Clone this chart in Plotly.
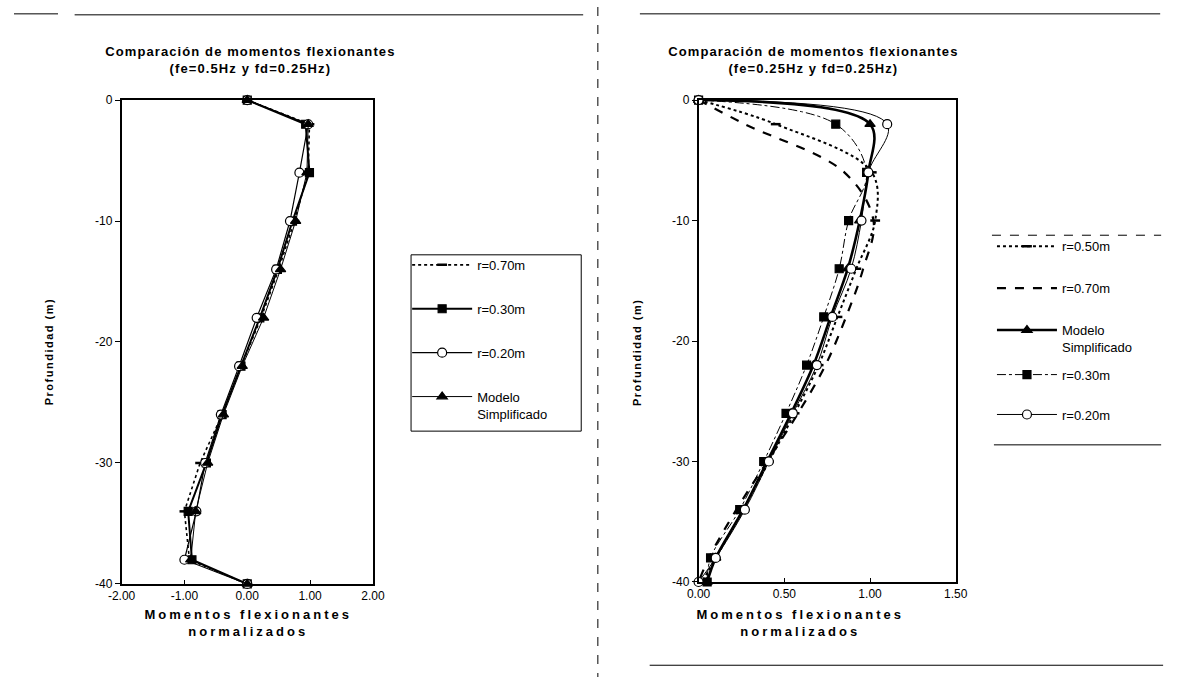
import plotly.graph_objects as go

W, H = 1180, 684

# Depth of each computed section along the pile (m)
depth = [0, -2, -6, -10, -14, -18, -22, -26, -30, -34, -38, -40]

# Left panel: fe=0.5Hz, fd=0.25Hz (normalised bending moments)
left_r070 = [0, 0.99, 0.97, 0.75, 0.50, 0.22, -0.10, -0.40, -0.75, -1.00, -0.92, 0.0]
left_r030 = [0, 0.93, 0.99, 0.72, 0.48, 0.20, -0.10, -0.40, -0.65, -0.94, -0.88, 0.0]
left_r020 = [0, 0.97, 0.83, 0.68, 0.46, 0.15, -0.13, -0.42, -0.67, -0.81, -1.00, 0.0]
left_modelo = [0, 0.97, 0.95, 0.77, 0.53, 0.26, -0.08, -0.38, -0.63, -0.82, -0.90, 0.0]

# Right panel: fe=0.25Hz, fd=0.25Hz
right_r050 = [0, 0.45, 1.01, 1.03, 0.92, 0.81, 0.70, 0.56, 0.41, 0.26, 0.10, 0.02]
right_r070 = [0, 0.27, 0.85, 1.02, 0.96, 0.86, 0.74, 0.58, 0.40, 0.22, 0.06, 0.0]
right_modelo = [0, 1.00, 0.99, 0.94, 0.87, 0.77, 0.67, 0.54, 0.40, 0.26, 0.10, 0.05]
right_r030 = [0, 0.80, 0.98, 0.875, 0.82, 0.73, 0.63, 0.51, 0.38, 0.24, 0.07, 0.05]
right_r020 = [0, 1.10, 0.99, 0.95, 0.89, 0.78, 0.69, 0.55, 0.41, 0.27, 0.10, 0.0]

left_xticks = [-2, -1, 0, 1, 2]
right_xticks = [0, 0.5, 1.0, 1.5]
y_ticks = [0, -10, -20, -30, -40]

titles = ["Comparación de momentos flexionantes<br>(fe=0.5Hz y fd=0.25Hz)",
          "Comparación de momentos flexionantes<br>(fe=0.25Hz y fd=0.25Hz)"]
x_title = "Momentos flexionantes<br>normalizados"
y_title = "Profundidad (m)"

FONT = "Arial, Liberation Sans, sans-serif"
BLACK = "#000000"


def px_x(p):
    return p / W


def px_y(p):
    return 1 - p / H


fig = go.Figure()


def add(x, name, xa, ya, legend, group, dash="solid", width=1.0,
        symbol=None, fill=BLACK, size=8, shape="linear"):
    mode = "lines+markers" if symbol else "lines"
    marker = dict(symbol=symbol or "circle", size=size, color=fill,
                  line=dict(color=BLACK, width=1.2 if symbol != "line-ew" else 2.5))
    fig.add_trace(go.Scatter(
        x=x, y=depth, name=name, mode=mode, xaxis=xa, yaxis=ya,
        legend=legend, legendgroup=group, cliponaxis=False,
        line=dict(color=BLACK, width=width, dash=dash, shape=shape,
                  smoothing=1.0 if shape == "spline" else None),
        marker=marker,
    ))


# Left panel traces
add(left_r070, "r=0.70m", "x", "y", "legend", "l1", dash="dot", width=1.6,
    symbol="line-ew", size=7)
add(left_r030, "r=0.30m", "x", "y", "legend", "l2", width=2.0,
    symbol="square", size=8)
add(left_r020, "r=0.20m", "x", "y", "legend", "l3", width=1.2,
    symbol="circle", fill="#ffffff", size=9)
add(left_modelo, "Modelo<br>Simplificado", "x", "y", "legend", "l4", width=1.0,
    symbol="triangle-up", size=9)

# Right panel traces (smoothed lines)
add(right_r050, "r=0.50m", "x2", "y2", "legend2", "r1", dash="dot", width=2.0,
    symbol="line-ew", size=7, shape="spline")
add(right_r070, "r=0.70m", "x2", "y2", "legend2", "r2", dash="dash", width=2.2,
    shape="spline")
add(right_modelo, "Modelo<br>Simplificado", "x2", "y2", "legend2", "r3", width=2.6,
    symbol="triangle-up", size=9, shape="spline")
add(right_r030, "r=0.30m", "x2", "y2", "legend3", "r4", dash="dashdot", width=1.0,
    symbol="square", size=8, shape="spline")
add(right_r020, "r=0.20m", "x2", "y2", "legend3", "r5", width=1.0,
    symbol="circle", fill="#ffffff", size=9, shape="spline")

axis_common = dict(showgrid=False, zeroline=False, showline=True, linecolor=BLACK,
                   linewidth=1.5, mirror=True, color=BLACK,
                   tickfont=dict(family=FONT, size=12, color=BLACK))

legend_font = dict(family=FONT, size=13, color=BLACK)

fig.update_layout(
    width=W, height=H, margin=dict(l=0, r=0, t=0, b=0),
    paper_bgcolor="white", plot_bgcolor="white",
    font=dict(family=FONT, color=BLACK),
    xaxis=dict(domain=[px_x(110), px_x(367)], range=[-2, 2], anchor="y",
               tickvals=left_xticks, ticktext=[f"{v:.2f}" for v in left_xticks],
               ticks="inside", ticklen=4, **axis_common),
    yaxis=dict(domain=[px_y(589), px_y(95)], range=[-40, 0], anchor="x",
               tickvals=y_ticks, ticktext=[str(v) for v in y_ticks],
               ticks="outside", ticklen=5, **axis_common),
    xaxis2=dict(domain=[px_x(700), px_x(963)], range=[0, 1.5], anchor="y2",
                tickvals=right_xticks, ticktext=[f"{v:.2f}" for v in right_xticks],
                ticks="inside", ticklen=4, **axis_common),
    yaxis2=dict(domain=[px_y(587), px_y(95)], range=[-40, 0], anchor="x2",
                tickvals=y_ticks, ticktext=[str(v) for v in y_ticks],
                ticks="outside", ticklen=5, **axis_common),
    legend=dict(x=px_x(402), y=px_y(248), xanchor="left", yanchor="top",
                bgcolor="rgba(0,0,0,0)", borderwidth=0, font=legend_font,
                tracegroupgap=24, itemwidth=60, valign="top"),
    legend2=dict(x=px_x(1000), y=px_y(229), xanchor="left", yanchor="top",
                 bgcolor="rgba(0,0,0,0)", borderwidth=0, font=legend_font,
                 tracegroupgap=22, itemwidth=60, valign="top"),
    legend3=dict(x=px_x(1000), y=px_y(360), xanchor="left", yanchor="top",
                 bgcolor="rgba(0,0,0,0)", borderwidth=0, font=legend_font,
                 tracegroupgap=20, itemwidth=60, valign="top"),
    showlegend=True,
)

annotations = []
# Panel titles
for cx, txt in zip([242, 818], titles):
    annotations.append(dict(x=px_x(cx), y=px_y(54), xref="paper", yref="paper",
                            text=f"<b>{txt}</b>", showarrow=False,
                            xanchor="center", yanchor="middle",
                            font=dict(family=FONT, size=13, color=BLACK)))
# Horizontal axis titles
for cx in [239, 804]:
    annotations.append(dict(x=px_x(cx), y=px_y(629), xref="paper", yref="paper",
                            text=f"<b>{x_title}</b>", showarrow=False,
                            xanchor="center", yanchor="middle",
                            font=dict(family=FONT, size=13, color=BLACK)))
# Vertical axis titles
for cx in [36, 637]:
    annotations.append(dict(x=px_x(cx), y=px_y(352), xref="paper", yref="paper",
                            text=f"<b>{y_title}</b>", showarrow=False,
                            textangle=-90, xanchor="center", yanchor="middle",
                            font=dict(family=FONT, size=11, color=BLACK)))
fig.update_layout(annotations=annotations)

# Page frame lines, the left legend box and the right legend rules
line = dict(color=BLACK, width=1)
shapes = [
    dict(type="line", xref="paper", yref="paper", x0=px_x(0), x1=px_x(45),
         y0=px_y(7), y1=px_y(7), line=line),
    dict(type="line", xref="paper", yref="paper", x0=px_x(62), x1=px_x(582),
         y0=px_y(8), y1=px_y(8), line=line),
    dict(type="line", xref="paper", yref="paper", x0=px_x(640), x1=px_x(1172),
         y0=px_y(7), y1=px_y(7), line=line),
    dict(type="line", xref="paper", yref="paper", x0=px_x(597), x1=px_x(597),
         y0=px_y(0), y1=px_y(684), line=dict(color=BLACK, width=1, dash="dash")),
    dict(type="line", xref="paper", yref="paper", x0=px_x(650), x1=px_x(1175),
         y0=px_y(672), y1=px_y(672), line=line),
    dict(type="rect", xref="paper", yref="paper", x0=px_x(406), x1=px_x(580),
         y0=px_y(433), y1=px_y(253), line=line),
    dict(type="line", xref="paper", yref="paper", x0=px_x(1000), x1=px_x(1173),
         y0=px_y(233), y1=px_y(233), line=dict(color=BLACK, width=1, dash="dash")),
    dict(type="line", xref="paper", yref="paper", x0=px_x(1002), x1=px_x(1173),
         y0=px_y(447), y1=px_y(447), line=line),
]
fig.update_layout(shapes=shapes)

# Wide letter tracking for the titles
tracking_js = """
var gd = document.getElementById('{plot_id}');
function track() {
  gd.querySelectorAll('g.annotation').forEach(function (g) {
    var i = +g.getAttribute('data-index');
    var t = g.querySelector('text.annotation-text');
    if (!t) return;
    t.style.letterSpacing = i < 2 ? '1.1px' : (i < 4 ? '3px' : '1.5px');
  });
}
track();
gd.on('plotly_afterplot', track);
"""

fig.write_html("out.html", post_script=tracking_js)
